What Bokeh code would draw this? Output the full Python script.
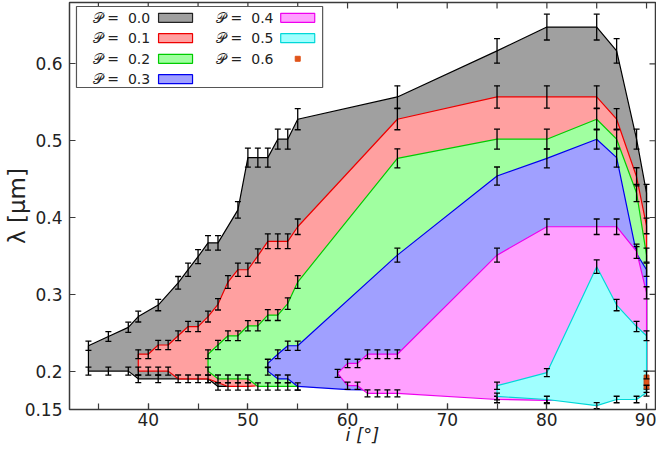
import math
from bokeh.plotting import figure
from bokeh.models import FixedTicker
from bokeh.core.properties import value
from bokeh.embed import file_html
from bokeh.resources import INLINE

# ---------------- data ----------------
P_LABELS = ["0.0", "0.1", "0.2", "0.3", "0.4", "0.5", "0.6"]

# P = 0.0 : upper boundary, visible lower boundary, hidden lower continuation
p00_up_i = [34, 36, 38, 39, 41, 43, 44, 45, 46, 47, 49, 50, 51, 52, 53, 54, 55, 65, 75, 80, 85, 87, 89, 90]
p00_up_lam = [0.233, 0.245, 0.257, 0.271, 0.286, 0.315, 0.332, 0.349, 0.367, 0.367, 0.410, 0.478, 0.478,
              0.478, 0.502, 0.502, 0.528, 0.557, 0.617, 0.648, 0.648, 0.617, 0.502, 0.432]
p00_lo_i = [34, 36, 38, 39, 41, 46, 47]
p00_lo_lam = [0.200, 0.200, 0.200, 0.190, 0.190, 0.190, 0.180]
p00_hid_i = [48, 50, 55, 65, 85, 90]
p00_hid_lam = [0.180, 0.182, 0.185, 0.185, 0.185, 0.200]

# P = 0.1
p01_up_i = [39, 40, 41, 42, 43, 44, 45, 46, 47, 48, 49, 50, 51, 52, 53, 54, 55, 65, 75, 80, 85, 87, 89, 90]
p01_up_lam = [0.222, 0.222, 0.234, 0.234, 0.246, 0.258, 0.258, 0.271, 0.287, 0.316, 0.332, 0.332, 0.350,
              0.369, 0.369, 0.369, 0.388, 0.528, 0.557, 0.557, 0.557, 0.528, 0.453, 0.389]
p01_lo_i = [39, 40, 41, 42, 43, 44, 45, 46, 48, 49, 50]
p01_lo_lam = [0.200, 0.200, 0.200, 0.200, 0.190, 0.190, 0.190, 0.190, 0.180, 0.180, 0.180]
p01_hid_i = [55, 65, 85, 90]
p01_hid_lam = [0.185, 0.185, 0.185, 0.200]

# P = 0.2
p02_up_i = [46, 47, 48, 49, 50, 51, 52, 53, 54, 55, 65, 75, 80, 85, 87, 89, 90]
p02_up_lam = [0.222, 0.234, 0.246, 0.246, 0.259, 0.259, 0.273, 0.273, 0.288, 0.316, 0.477, 0.502, 0.502,
              0.528, 0.502, 0.432, 0.351]
p02_lo_i = [46, 47, 48, 49, 50, 51, 52, 53, 54, 55]
p02_lo_lam = [0.200, 0.190, 0.190, 0.190, 0.190, 0.180, 0.180, 0.180, 0.180, 0.180]
p02_hid_i = [59, 65, 85, 90]
p02_hid_lam = [0.180, 0.180, 0.185, 0.200]

# P = 0.3
p03_up_i = [52, 53, 54, 55, 65, 75, 80, 85, 87, 89, 90]
p03_up_lam = [0.210, 0.222, 0.233, 0.233, 0.351, 0.454, 0.477, 0.502, 0.478, 0.353, 0.332]
p03_lo_i = [52, 53, 54, 55]
p03_lo_lam = [0.200, 0.190, 0.190, 0.180]
p03_hid_i = [60, 65, 85, 90]
p03_hid_lam = [0.176, 0.175, 0.175, 0.200]

# P = 0.4
p04_up_i = [59, 60, 61, 62, 63, 64, 65, 75, 80, 85, 87, 89, 90]
p04_up_lam = [0.197, 0.210, 0.210, 0.222, 0.222, 0.222, 0.222, 0.351, 0.388, 0.388, 0.388, 0.356, 0.302]
p04_lo_i = [60, 61, 62, 63, 64, 65, 75, 80]
p04_lo_lam = [0.181, 0.181, 0.171, 0.171, 0.171, 0.171, 0.163, 0.162]
p04_hid_i = [85, 90]
p04_hid_lam = [0.165, 0.200]

# P = 0.5
p05_up_i = [75, 80, 85, 87, 89, 90]
p05_up_lam = [0.181, 0.198, 0.336, 0.286, 0.258, 0.246]
p05_lo_i = [75, 80, 85, 87, 89, 90]
p05_lo_lam = [0.167, 0.163, 0.155, 0.163, 0.163, 0.172]
p05_hid_i = []
p05_hid_lam = []

# P = 0.6 (single inclination)
p06_i = [90]
p06_lo_lam = [0.177]
p06_up_lam = [0.195]

REL_ERR = 0.026  # relative half-height of the error bars

X_RANGE = (32.1, 90.9)
Y_RANGE = (0.15, 0.68)
X_TICKS = [40, 50, 60, 70, 80, 90]
X_MINOR_TICKS = [35, 40, 45, 50, 55, 60, 65, 70, 75, 80, 85, 90]
Y_TICKS = [0.15, 0.2, 0.3, 0.4, 0.5, 0.6]
Y_TICK_LABELS = ["0.15", "0.2", "0.3", "0.4", "0.5", "0.6"]

FILLS = ["#a0a0a0", "#ffa0a0", "#a0ffa0", "#a0a0ff", "#ffa0ff", "#a0ffff", "#e0541a"]
LINES = ["#000000", "#ee0000", "#00cc00", "#0000ee", "#ee00ee", "#00d8d8", "#e0541a"]

series = [
    (p00_up_i, p00_up_lam, p00_lo_i, p00_lo_lam, p00_hid_i, p00_hid_lam),
    (p01_up_i, p01_up_lam, p01_lo_i, p01_lo_lam, p01_hid_i, p01_hid_lam),
    (p02_up_i, p02_up_lam, p02_lo_i, p02_lo_lam, p02_hid_i, p02_hid_lam),
    (p03_up_i, p03_up_lam, p03_lo_i, p03_lo_lam, p03_hid_i, p03_hid_lam),
    (p04_up_i, p04_up_lam, p04_lo_i, p04_lo_lam, p04_hid_i, p04_hid_lam),
    (p05_up_i, p05_up_lam, p05_lo_i, p05_lo_lam, p05_hid_i, p05_hid_lam),
]

FONT = "DejaVu Sans"
AX = "#3a3a3a"
NB = "\u00a0"

p = figure(width=656, height=449, x_range=X_RANGE, y_range=Y_RANGE,
           output_backend="svg", toolbar_location=None,
           min_border_left=67, min_border_right=1, min_border_top=2, min_border_bottom=40)
p.grid.visible = False
p.outline_line_color = AX
p.outline_line_width = 1.5
p.background_fill_color = "white"
p.border_fill_color = "white"


def draw_bars(xs, ys):
    lo = [y - REL_ERR * y for y in ys]
    hi = [y + REL_ERR * y for y in ys]
    p.segment(x0=xs, y0=lo, x1=xs, y1=hi, line_color="black", line_width=1.3)
    p.scatter(x=xs + xs, y=lo + hi, marker="dash", size=6, line_color="black", line_width=1.3)


for k, (ui, ul, li, ll, hi_, hl) in enumerate(series):
    low_i = li + hi_
    low_l = ll + hl
    px = ui + low_i[::-1]
    py = ul + low_l[::-1]
    p.patch(px, py, fill_color=FILLS[k], line_color=LINES[k], line_width=1.2)
    draw_bars(ui + li, ul + ll)

# P = 0.6
mid6 = [(a + b) / 2 for a, b in zip(p06_lo_lam, p06_up_lam)]
hgt6 = [b - a for a, b in zip(p06_lo_lam, p06_up_lam)]
p.rect(x=p06_i, y=mid6, width=5, width_units="screen", height=hgt6,
       fill_color=FILLS[6], line_color="#b04010", line_width=0.8)
draw_bars(p06_i + p06_i, p06_lo_lam + p06_up_lam)

# ---------------- axes ----------------
bottom = p.xaxis[0]
left = p.yaxis[0]
bottom.ticker = FixedTicker(ticks=X_TICKS, minor_ticks=X_MINOR_TICKS)
left.ticker = FixedTicker(ticks=Y_TICKS)
left.major_label_overrides = {t: l for t, l in zip(Y_TICKS, Y_TICK_LABELS)}

for ax in [bottom, left]:
    ax.axis_line_color = None
    ax.major_tick_in = 6
    ax.major_tick_out = 0
    ax.minor_tick_in = 6
    ax.minor_tick_out = 0
    ax.major_tick_line_color = AX
    ax.minor_tick_line_color = AX
    ax.major_tick_line_width = 1.2
    ax.minor_tick_line_width = 1.2
    ax.major_label_text_font = FONT
    ax.major_label_text_font_size = "17px"
    ax.major_label_text_color = "#222222"
    ax.axis_label_text_font = FONT
    ax.axis_label_text_color = "#222222"
left.minor_tick_line_color = None

bottom.axis_label = "i [°]"
bottom.axis_label_text_font_size = "18px"
bottom.axis_label_text_font_style = "italic"
bottom.axis_label_standoff = -5
bottom.major_label_standoff = 3

left.axis_label = "λ [μm]"
left.axis_label_text_font_size = "23px"
left.axis_label_text_font_style = "normal"
left.axis_label_standoff = -8
left.major_label_standoff = 7

# mirrored inward ticks on the top and right border
p.scatter(x=X_MINOR_TICKS, y=[Y_RANGE[1]] * len(X_MINOR_TICKS), marker="dash",
          angle=math.pi / 2, size=12, line_color=AX, line_width=1.2)
p.scatter(x=[X_RANGE[1]] * (len(Y_TICKS) - 1), y=Y_TICKS[1:], marker="dash",
          size=12, line_color=AX, line_width=1.2)

# ---------------- key (gnuplot style: text then swatch) ----------------
p.quad(left=[32.8], right=[57.5], bottom=[0.5693], top=[0.6748],
       fill_color="white", line_color="#555555", line_width=1.2)
row_y = [0.6601, 0.6335, 0.6067, 0.5802]
col_text_x = [40.2, 52.57]
col_sw_x = [42.74, 55.0]
for k, lab in enumerate(P_LABELS):
    col = 0 if k < 4 else 1
    row = k if k < 4 else k - 4
    p.text(x=[col_text_x[col]], y=[row_y[row]], text=["𝒫" + NB + "=" + NB + NB + lab],
           text_align="right", text_baseline="middle",
           text_font=value(FONT), text_font_size="14px", text_color="#222222")
    if k < 6:
        p.rect(x=[col_sw_x[col]], y=[row_y[row]], width=34, height=9,
               width_units="screen", height_units="screen",
               fill_color=FILLS[k], line_color=LINES[k] if k else "#222222", line_width=1.2)
    else:
        p.scatter(x=[col_sw_x[col]], y=[row_y[row]], marker="square", size=5,
                  fill_color=FILLS[k], line_color=FILLS[k])

open("out.html", "w").write(file_html(p, INLINE))
